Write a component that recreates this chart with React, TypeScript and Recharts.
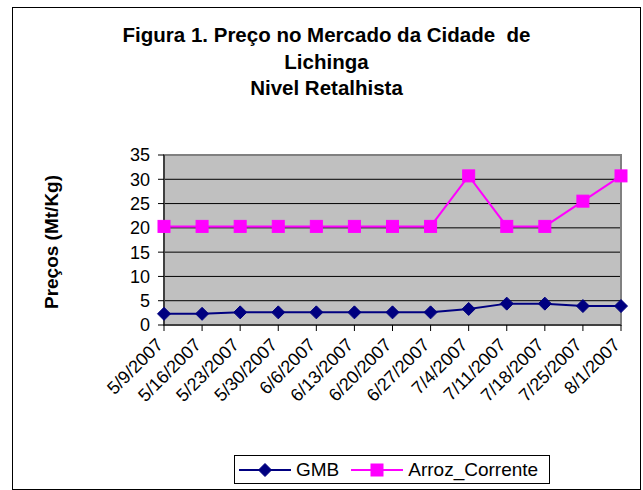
import React from 'react';
import { CartesianGrid, Line, LineChart, ReferenceArea, XAxis, YAxis } from 'recharts';

const dates = [
  '5/9/2007', '5/16/2007', '5/23/2007', '5/30/2007', '6/6/2007', '6/13/2007', '6/20/2007',
  '6/27/2007', '7/4/2007', '7/11/2007', '7/18/2007', '7/25/2007', '8/1/2007',
];
const gmb = [2.3, 2.3, 2.6, 2.6, 2.6, 2.6, 2.6, 2.6, 3.3, 4.4, 4.4, 3.9, 3.9];
const arrozCorrente = [20.3, 20.3, 20.3, 20.3, 20.3, 20.3, 20.3, 20.3, 30.7, 20.3, 20.3, 25.5, 30.7];
const yTicks = [0, 5, 10, 15, 20, 25, 30, 35];
const titleLines = ['Figura 1. Preço no Mercado da Cidade  de', 'Lichinga', 'Nivel Retalhista'];
const yLabel = 'Preços (Mt/Kg)';

const series = [
  { key: 'GMB', values: gmb, color: '#000080', shape: 'diamond' },
  { key: 'Arroz_Corrente', values: arrozCorrente, color: '#FF00FF', shape: 'square' },
];

const data = dates.map((date, i) => {
  const row: any = { date };
  series.forEach((s) => {
    row[s.key] = s.values[i];
  });
  return row;
});

const font = '"Liberation Sans", Arial, sans-serif';

const Marker = ({ cx, cy, shape, color }: any) => {
  if (cx == null || cy == null) return null;
  if (shape === 'diamond') {
    const r = 6.5;
    return <polygon points={`${cx},${cy - r} ${cx + r},${cy} ${cx},${cy + r} ${cx - r},${cy}`} fill={color} stroke={color} />;
  }
  const s = 6;
  return <rect x={cx - s} y={cy - s} width={s * 2} height={s * 2} fill={color} stroke={color} />;
};

const XTick = ({ x, y, payload }: any) => (
  <text
    x={x}
    y={y + 13}
    transform={`rotate(-45, ${x}, ${y + 13})`}
    textAnchor="end"
    fontFamily={font}
    fontSize={18}
    fill="#000"
  >
    {payload.value}
  </text>
);

const YLabel = () => (
  <text
    x={51}
    y={242}
    transform="rotate(-90, 51, 242)"
    textAnchor="middle"
    dominantBaseline="central"
    fontFamily={font}
    fontSize={19}
    fontWeight="bold"
    fill="#000"
  >
    {yLabel}
  </text>
);

export default function App() {
  return (
    <div style={{ position: 'absolute', left: 0, top: 0, width: 643, height: 490, background: '#fff', fontFamily: font }}>
      <div
        style={{
          position: 'absolute',
          left: 12,
          top: 7,
          width: 629,
          height: 483,
          boxSizing: 'border-box',
          border: '1px solid #000',
        }}
      />
      <div
        style={{
          position: 'absolute',
          left: 12,
          top: 22,
          width: 629,
          textAlign: 'center',
          fontWeight: 'bold',
          fontSize: 20.5,
          lineHeight: '26.5px',
          color: '#000',
        }}
      >
        {titleLines.map((t) => (
          <div key={t} style={{ whiteSpace: 'pre' }}>{t}</div>
        ))}
      </div>
      <div style={{ position: 'absolute', left: 0, top: 0 }}>
        <LineChart width={643} height={490} data={data} margin={{ top: 155, right: 22, left: 0, bottom: 0 }}>
          <CartesianGrid fill="#C0C0C0" stroke="#000" vertical={false} fillOpacity={1} />
          <ReferenceArea
            x1={dates[0]}
            x2={dates[dates.length - 1]}
            y1={0}
            y2={35}
            fill="none"
            stroke="#808080"
            strokeWidth={2}
            ifOverflow="visible"
          />
          <XAxis
            dataKey="date"
            height={165}
            interval={0}
            tickSize={6}
            tickLine={{ stroke: '#000' }}
            axisLine={{ stroke: '#000' }}
            tick={<XTick />}
          />
          <YAxis
            width={164}
            domain={[0, 35]}
            ticks={yTicks}
            interval={0}
            tickSize={6}
            tickMargin={8}
            tickLine={{ stroke: '#000' }}
            axisLine={{ stroke: '#000' }}
            tick={{ fontFamily: font, fontSize: 18, fill: '#000' }}
            label={<YLabel />}
          />
          {series.map((s) => (
            <Line
              key={s.key}
              dataKey={s.key}
              type="linear"
              stroke={s.color}
              strokeWidth={2}
              isAnimationActive={false}
              dot={(p: any) => <Marker key={`${s.key}-${p.index}`} cx={p.cx} cy={p.cy} shape={s.shape} color={s.color} />}
              activeDot={false}
            />
          ))}
        </LineChart>
      </div>
      <div
        style={{
          position: 'absolute',
          left: 234,
          top: 455,
          width: 316,
          height: 29,
          boxSizing: 'border-box',
          border: '1px solid #000',
          display: 'flex',
          alignItems: 'center',
          paddingLeft: 3,
          fontSize: 19,
          color: '#000',
        }}
      >
        {series.map((s) => (
          <div key={s.key} style={{ display: 'flex', alignItems: 'center', marginRight: 11 }}>
            <svg width={54} height={20}>
              <line x1={1} y1={10} x2={53} y2={10} stroke={s.color} strokeWidth={2} />
              <Marker cx={27} cy={10} shape={s.shape} color={s.color} />
            </svg>
            <span style={{ marginLeft: 4 }}>{s.key}</span>
          </div>
        ))}
      </div>
    </div>
  );
}
